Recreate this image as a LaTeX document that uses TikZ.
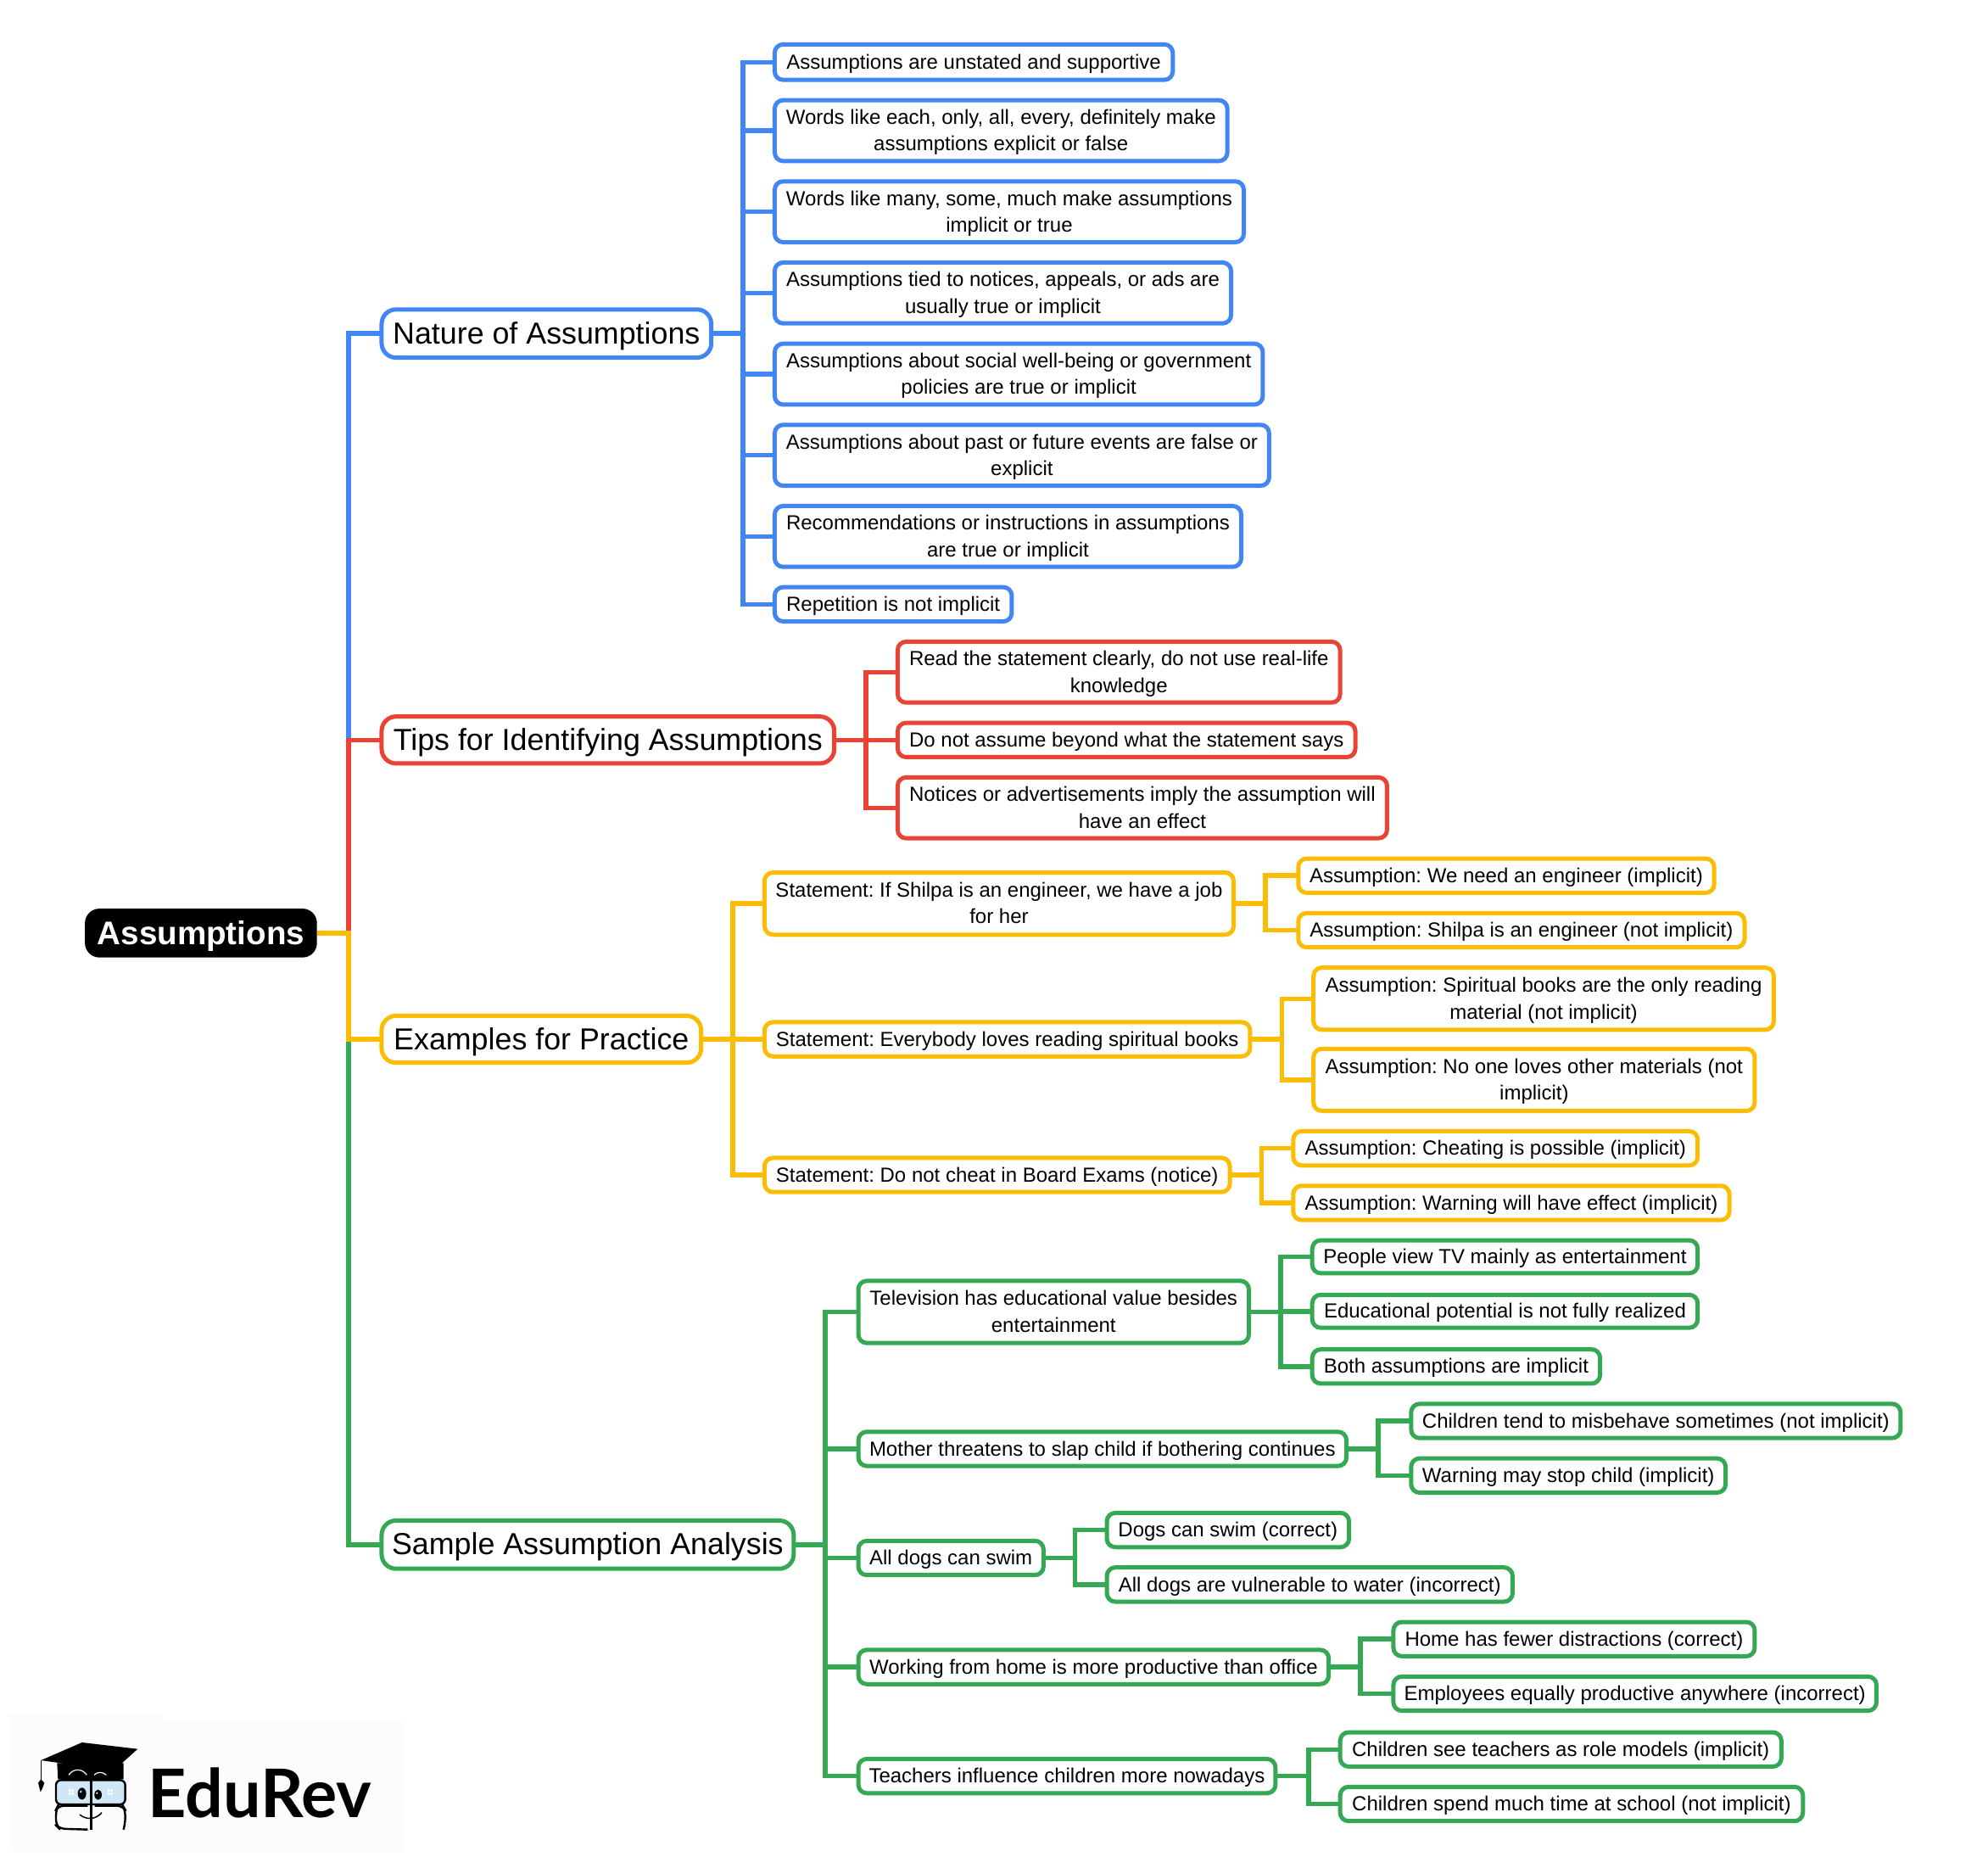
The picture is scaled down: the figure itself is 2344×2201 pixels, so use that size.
\documentclass[tikz,border=0pt]{standalone}
\usepackage{fontspec}
\setmainfont{Liberation Sans}
\newfontfamily\logofont{Lato}
\frenchspacing
\definecolor{cblue}{HTML}{4285F4}
\definecolor{cred}{HTML}{EA4335}
\definecolor{cyel}{HTML}{FBBC04}
\definecolor{cgrn}{HTML}{34A853}
\definecolor{lens}{HTML}{CFE7F7}
\tikzset{
 boxbase/.style={rounded corners=10pt,inner sep=0pt,outer sep=0pt,align=center,line width=5pt,fill=white,text=black,font=\fontsize{24}{31.4}\selectfont\frenchspacing},
 leafb/.style={boxbase,draw=cblue},
 leafr/.style={boxbase,draw=cred},
 leafy/.style={boxbase,draw=cyel},
 leafg/.style={boxbase,draw=cgrn},
 headbox/.style={rounded corners=17pt,font=\fontsize{35.8}{44}\selectfont},
 rootbox/.style={rounded corners=17pt,inner sep=0pt,outer sep=0pt,align=center,fill=black,text=white,font=\fontsize{38.6}{44}\selectfont\bfseries},
 link/.style={line width=5.5pt,line join=miter,line cap=butt},
}
\newcommand\bxs{\leavevmode\vrule height .9em depth .22em width 0pt\relax}
\newcommand\bx[7]{\pgfmathsetmacro\bxx{(#3+#5)/2}\pgfmathsetmacro\byy{(#4+#6)/2}%
 \node[#1,minimum width={(#5-#3)*1.4949pt},minimum height={(#6-#4)*1.4949pt}] (#2) at (\bxx,\byy) {\bxs #7\bxs};}
\newcommand\conn[4]{\foreach \kid in {#4}{\draw[link,#1] (#2.east) -- (#3,0 |- #2.east) |- (\kid.west);}}
\begin{document}
\begin{tikzpicture}[x=1.4949pt,y=-1.4949pt]
\useasboundingbox (0pt,0pt) rectangle (2344pt,-2201pt);
\fill[white] (0pt,0pt) rectangle (2344pt,-2201pt);
% logo backdrop
\fill[black!1] (10pt,-2021pt) rectangle (190pt,-2183pt);
\fill[black!1] (190pt,-2027pt) rectangle (475pt,-2183pt);
% root and heads
\bx{rootbox}{root}{67}{716.5}{250}{755}{Assumptions}
\bx{leafb,headbox}{nature}{301}{244}{561}{282}{Nature of Assumptions}
\bx{leafr,headbox}{tips}{301}{565}{658}{602}{Tips for Identifying Assumptions}
\bx{leafy,headbox}{examples}{301}{801}{553}{838}{Examples for Practice}
\bx{leafg,headbox}{sample}{301}{1199}{626}{1237}{Sample Assumption Analysis}
% blue
\bx{leafb}{b1}{611}{35}{925}{63}{Assumptions are unstated and supportive}
\bx{leafb}{b2}{611}{79}{968}{127}{Words like each, only, all, every, definitely make\\assumptions explicit or false}
\bx{leafb}{b3}{611}{143}{981}{191}{Words like many, some, much make assumptions\\implicit or true}
\bx{leafb}{b4}{611}{207}{971}{255}{Assumptions tied to notices, appeals, or ads are\\usually true or implicit}
\bx{leafb}{b5}{611}{271}{996}{319}{Assumptions about social well-being or government\\policies are true or implicit}
\bx{leafb}{b6}{611}{335}{1001}{383}{Assumptions about past or future events are false or\\explicit}
\bx{leafb}{b7}{611}{399}{979}{447}{Recommendations or instructions in assumptions\\are true or implicit}
\bx{leafb}{b8}{611}{463}{798}{490}{Repetition is not implicit}
% red
\bx{leafr}{r1}{708}{506}{1057}{554}{Read the statement clearly, do not use real-life\\knowledge}
\bx{leafr}{r2}{708}{570}{1069}{597}{Do not assume beyond what the statement says}
\bx{leafr}{r3}{708}{613}{1094}{661}{Notices or advertisements imply the assumption will\\have an effect}
% yellow
\bx{leafy}{y1}{603}{688}{973}{737}{Statement: If Shilpa is an engineer, we have a job\\for her}
\bx{leafy}{y2}{603}{806}{986}{833}{Statement: Everybody loves reading spiritual books}
\bx{leafy}{y3}{603}{913}{970}{940}{Statement: Do not cheat in Board Exams (notice)}
\bx{leafy}{ya}{1024}{677}{1352}{704}{Assumption: We need an engineer (implicit)}
\bx{leafy}{yb}{1024}{720}{1376}{747}{Assumption: Shilpa is an engineer (not implicit)}
\bx{leafy}{yc}{1036}{763}{1399}{812}{Assumption: Spiritual books are the only reading\\material (not implicit)}
\bx{leafy}{yd}{1036}{827}{1384}{876}{Assumption: No one loves other materials (not\\implicit)}
\bx{leafy}{ye}{1020}{892}{1339}{919}{Assumption: Cheating is possible (implicit)}
\bx{leafy}{yf}{1020}{935}{1364}{962}{Assumption: Warning will have effect (implicit)}
% green
\bx{leafg}{g1}{677}{1010}{985}{1059}{Television has educational value besides\\entertainment}
\bx{leafg}{g2}{677}{1129}{1062}{1156}{Mother threatens to slap child if bothering continues}
\bx{leafg}{g3}{677}{1215}{823}{1242}{All dogs can swim}
\bx{leafg}{g4}{677}{1301}{1048}{1328}{Working from home is more productive than office}
\bx{leafg}{g5}{677}{1387}{1006}{1414}{Teachers influence children more nowadays}
\bx{leafg}{ga}{1035}{978}{1339}{1004}{People view TV mainly as entertainment}
\bx{leafg}{gb}{1035}{1021}{1339}{1047}{Educational potential is not fully realized}
\bx{leafg}{gc}{1035}{1064}{1262}{1091}{Both assumptions are implicit}
\bx{leafg}{gd}{1113}{1107}{1499}{1134}{Children tend to misbehave sometimes (not implicit)}
\bx{leafg}{ge}{1113}{1150}{1361}{1177}{Warning may stop child (implicit)}
\bx{leafg}{gf}{873}{1193}{1064}{1220}{Dogs can swim (correct)}
\bx{leafg}{gg}{873}{1236}{1193}{1263}{All dogs are vulnerable to water (incorrect)}
\bx{leafg}{gh}{1099}{1279}{1384}{1306}{Home has fewer distractions (correct)}
\bx{leafg}{gi}{1099}{1322}{1480}{1349}{Employees equally productive anywhere (incorrect)}
\bx{leafg}{gj}{1057}{1366}{1405}{1393}{Children see teachers as role models (implicit)}
\bx{leafg}{gk}{1057}{1409}{1422}{1436}{Children spend much time at school (not implicit)}
% connectors
\conn{cblue}{root}{275}{nature}
\conn{cgrn}{root}{275}{sample}
\conn{cred}{root}{275}{tips}
\conn{cyel}{root}{275}{examples}
\conn{cblue}{nature}{586}{b1,b2,b3,b4,b5,b6,b7,b8}
\conn{cred}{tips}{683}{r1,r2,r3}
\conn{cyel}{examples}{578}{y1,y2,y3}
\conn{cyel}{y1}{998}{ya,yb}
\conn{cyel}{y2}{1011}{yc,yd}
\conn{cyel}{y3}{995}{ye,yf}
\conn{cgrn}{sample}{651}{g1,g2,g3,g4,g5}
\conn{cgrn}{g1}{1010}{ga,gb,gc}
\conn{cgrn}{g2}{1087}{gd,ge}
\conn{cgrn}{g3}{848}{gf,gg}
\conn{cgrn}{g4}{1073}{gh,gi}
\conn{cgrn}{g5}{1032}{gj,gk}
% logo
\node[anchor=base west,inner sep=0pt,font=\fontsize{79}{82}\selectfont\logofont\bfseries] (brand) at (174pt,-2142pt) {EduRev};
\begin{scope}[shift={(0pt,-1980pt)},x=0.3333pt,y=-0.3333pt]
 \draw[line width=1.2pt] (145,285) -- (145,355);
 \fill (135,365) -- (145,352) -- (157,365) -- (150,385) -- (143,397) -- cycle;
 \fill (202,295) -- (437,295) -- (437,352) -- (205,352) -- cycle;
 \fill (145,285) -- (290,222) -- (487,245) -- (395,328) -- (370,322) -- (250,300) -- cycle;
 \draw[white,line width=1.2pt] (243,337) .. controls (260,313) and (290,313) .. (307,337);
 \draw[white,line width=1.2pt] (333,337) .. controls (345,325) and (362,325) .. (376,337);
 \draw[line width=2.4pt,fill=lens,rounded corners=6pt] (198,355) rectangle (443,441);
 \draw[line width=2.4pt,rounded corners=7pt] (310,446) -- (205,446) -- (198,460) -- (198,515) -- (210,527) -- (310,530);
 \draw[line width=2.4pt,rounded corners=7pt] (335,446) -- (435,446) -- (443,460) -- (443,510) -- (437,530);
 \fill[white] (318,352) rectangle (326,365);
 \draw[line width=2.4pt] (323,350) -- (323,530);
 \fill (290,403) ellipse [x radius=15,y radius=21];
 \fill (347,407) ellipse [x radius=13,y radius=18];
 \fill[white] (286,396) circle (4);
 \fill[white] (343,401) circle (3.5);
 \fill[white] (243,388) rectangle (262,408);
 \fill[white] (380,388) rectangle (399,408);
 \draw[lens,line width=.5pt] (243,398) -- (262,398) (252.5,388) -- (252.5,408) (380,398) -- (399,398) (389.5,388) -- (389.5,408);
 \draw[line width=1.5pt] (282,477) .. controls (305,497) and (340,495) .. (360,470);
\end{scope}
\end{tikzpicture}
\end{document}
